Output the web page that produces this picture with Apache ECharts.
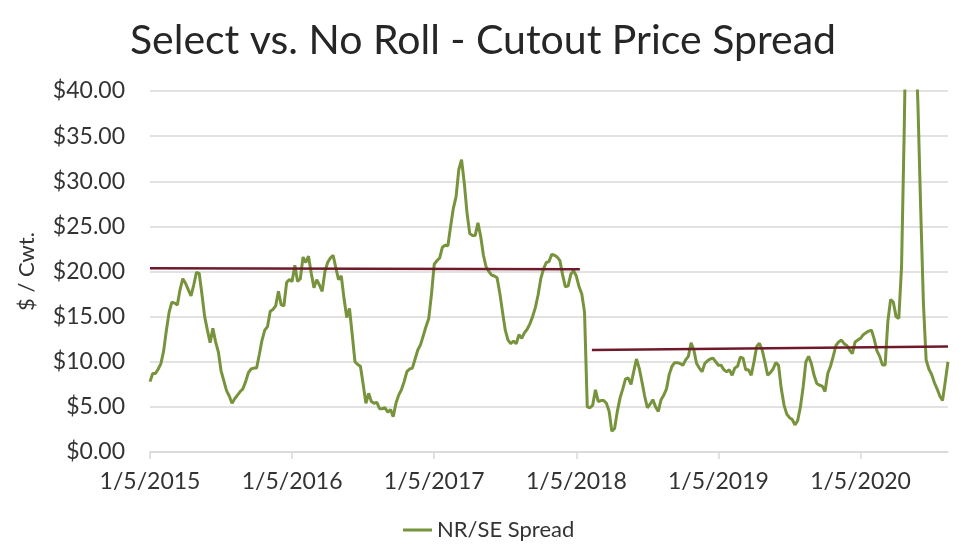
<!DOCTYPE html>
<html>
<head>
<meta charset="utf-8">
<script src="https://cdn.jsdelivr.net/npm/echarts@6/dist/echarts.min.js"></script>
<style>
  html, body { margin: 0; padding: 0; background: #fff; }
  #chart { width: 966px; height: 558px; }
</style>
</head>
<body>
<div id="chart"></div>
<script>
// weekly NR/SE spread, week 0 = 1/5/2015
const spread = [
  7.8, 8.7, 8.7, 9.2, 9.8, 11.2, 13.5, 15.5, 16.6, 16.5,
  16.3, 18.0, 19.2, 18.7, 18.0, 17.3, 18.5, 19.9, 19.8, 17.5,
  15.0, 13.5, 12.1, 13.7, 12.2, 11.1, 9.0, 7.9, 6.8, 6.2,
  5.4, 5.9, 6.3, 6.7, 7.0, 7.8, 8.8, 9.2, 9.3, 9.3,
  10.8, 12.4, 13.5, 13.9, 15.6, 15.8, 16.2, 17.8, 16.3, 16.2,
  18.8, 19.1, 18.9, 20.7, 18.9, 19.2, 21.6, 21.0, 21.7, 19.8,
  18.2, 19.1, 18.5, 17.8, 20.0, 21.0, 21.5, 21.8, 20.4, 19.1,
  19.5, 17.0, 14.9, 15.9, 13.0, 10.0, 9.7, 9.5, 7.5, 5.4,
  6.5, 5.6, 5.4, 5.5, 4.8, 4.8, 4.9, 4.4, 4.7, 3.9,
  5.4, 6.3, 6.9, 7.8, 8.9, 9.2, 9.3, 10.3, 11.3, 11.9,
  12.9, 13.9, 14.8, 17.5, 20.8, 21.2, 21.5, 22.7, 22.9, 22.85,
  25.0, 27.0, 28.3, 31.3, 32.4, 29.8, 26.5, 24.2, 24.0, 24.0,
  25.4, 23.9, 21.8, 20.5, 20.0, 19.6, 19.5, 19.3, 17.6, 15.5,
  13.5, 12.4, 12.0, 12.3, 12.0, 13.0, 12.6, 13.2, 13.6, 14.2,
  15.0, 16.0, 17.4, 19.2, 20.3, 21.0, 21.1, 21.9, 21.8, 21.6,
  21.2, 19.6, 18.3, 18.4, 19.7, 20.1, 19.5, 18.3, 17.5, 15.5,
  5.0, 4.9, 5.2, 6.9, 5.6, 5.7, 5.7, 5.4, 4.5, 2.3,
  2.6, 4.5, 6.0, 7.0, 8.1, 8.2, 7.5, 8.9, 10.3, 9.3,
  7.8, 6.2, 4.9, 5.3, 5.8, 5.0, 4.5, 5.8, 6.3, 7.0,
  8.6, 9.5, 9.9, 9.9, 9.8, 9.6, 10.2, 10.6, 12.1, 11.3,
  9.8, 9.3, 8.9, 9.8, 10.1, 10.3, 10.4, 10.0, 9.6, 9.6,
  9.1, 8.9, 9.1, 8.5, 9.3, 9.5, 10.5, 10.4, 9.1, 9.1,
  8.5, 10.0, 11.7, 12.05, 11.3, 10.0, 8.5, 8.8, 9.2, 9.9,
  9.6, 7.0, 5.2, 4.2, 3.8, 3.6, 3.0, 3.5, 5.0, 7.2,
  10.0, 10.6, 9.8, 8.5, 7.6, 7.4, 7.3, 6.7, 8.7, 9.5,
  10.6, 11.8, 12.2, 12.4, 12.0, 11.8, 11.3, 10.9, 12.2, 12.4,
  12.6, 13.0, 13.2, 13.4, 13.5, 12.5, 11.2, 10.6, 9.65, 9.65,
  14.5, 16.9, 16.6, 15.0, 14.8, 20.5, 36.0, 55.0, 62.0, 57.0,
  47.0, 38.5, 27.0, 16.5, 10.2, 9.2, 8.6, 7.7, 7.0, 6.2,
  5.7, 7.8, 10.0
]
// average lines: [week, value] end points
const avg2015 = [[0, 20.35], [157.3, 20.25]]
const avg2018 = [[161.7, 11.3], [292, 11.68]]
const xTickLabels = ['1/5/2015', '1/5/2016', '1/5/2017', '1/5/2018', '1/5/2019', '1/5/2020']
const weeksPerTick = 52

const fontName = 'Lato, "Open Sans", sans-serif'
const chart = echarts.init(document.getElementById('chart'), null, { renderer: 'canvas' })

const option = {
  animation: false,
  title: {
    text: 'Select vs. No Roll - Cutout Price Spread',
    left: 'center',
    top: 15,
    textStyle: { fontFamily: fontName, fontSize: 41, fontWeight: 'normal', color: '#262626' }
  },
  legend: {
    left: 398,
    top: 514,
    data: ['NR/SE Spread'],
    icon: 'rect',
    itemWidth: 29,
    itemHeight: 3,
    textStyle: { fontFamily: fontName, fontSize: 22, color: '#333' }
  },
  grid: { left: 150, right: 18, top: 91, bottom: 106 },
  xAxis: {
    type: 'value',
    min: 0,
    max: spread.length - 1,
    interval: weeksPerTick,
    splitLine: { show: false },
    axisLine: { lineStyle: { color: '#d9d9d9', width: 1.5 } },
    axisTick: { show: true, length: 7, lineStyle: { color: '#d9d9d9', width: 1.5 } },
    axisLabel: {
      showMaxLabel: false,
      margin: 18,
      fontFamily: fontName,
      fontSize: 23,
      color: '#333',
      formatter: v => {
        const i = Math.round(v / weeksPerTick)
        return Math.abs(v - i * weeksPerTick) < 0.01 ? (xTickLabels[i] || '') : ''
      }
    }
  },
  yAxis: {
    type: 'value',
    min: 0,
    max: 40,
    interval: 5,
    name: '$ / Cwt.',
    nameLocation: 'middle',
    nameGap: 112,
    nameRotate: 90,
    nameTextStyle: { fontFamily: fontName, fontSize: 22, color: '#333' },
    axisLine: { show: false },
    axisTick: { show: false },
    splitLine: { lineStyle: { color: '#d9d9d9', width: 1.5 } },
    axisLabel: {
      margin: 25,
      fontFamily: fontName,
      fontSize: 23,
      color: '#333',
      formatter: v => '$' + v.toFixed(2)
    }
  },
  series: [
    {
      name: 'NR/SE Spread',
      type: 'line',
      data: spread.map((v, i) => [i, v]),
      showSymbol: false,
      clip: true,
      lineStyle: { color: '#77933c', width: 3 },
      itemStyle: { color: '#77933c' },
      z: 2
    },
    {
      name: 'avg1',
      type: 'line',
      data: avg2015,
      showSymbol: false,
      lineStyle: { color: '#6e1a2a', width: 2.5 },
      itemStyle: { color: '#6e1a2a' },
      z: 3
    },
    {
      name: 'avg2',
      type: 'line',
      data: avg2018,
      showSymbol: false,
      lineStyle: { color: '#6e1a2a', width: 2.5 },
      itemStyle: { color: '#6e1a2a' },
      z: 3
    }
  ]
}
chart.setOption(option)
</script>
</body>
</html>
